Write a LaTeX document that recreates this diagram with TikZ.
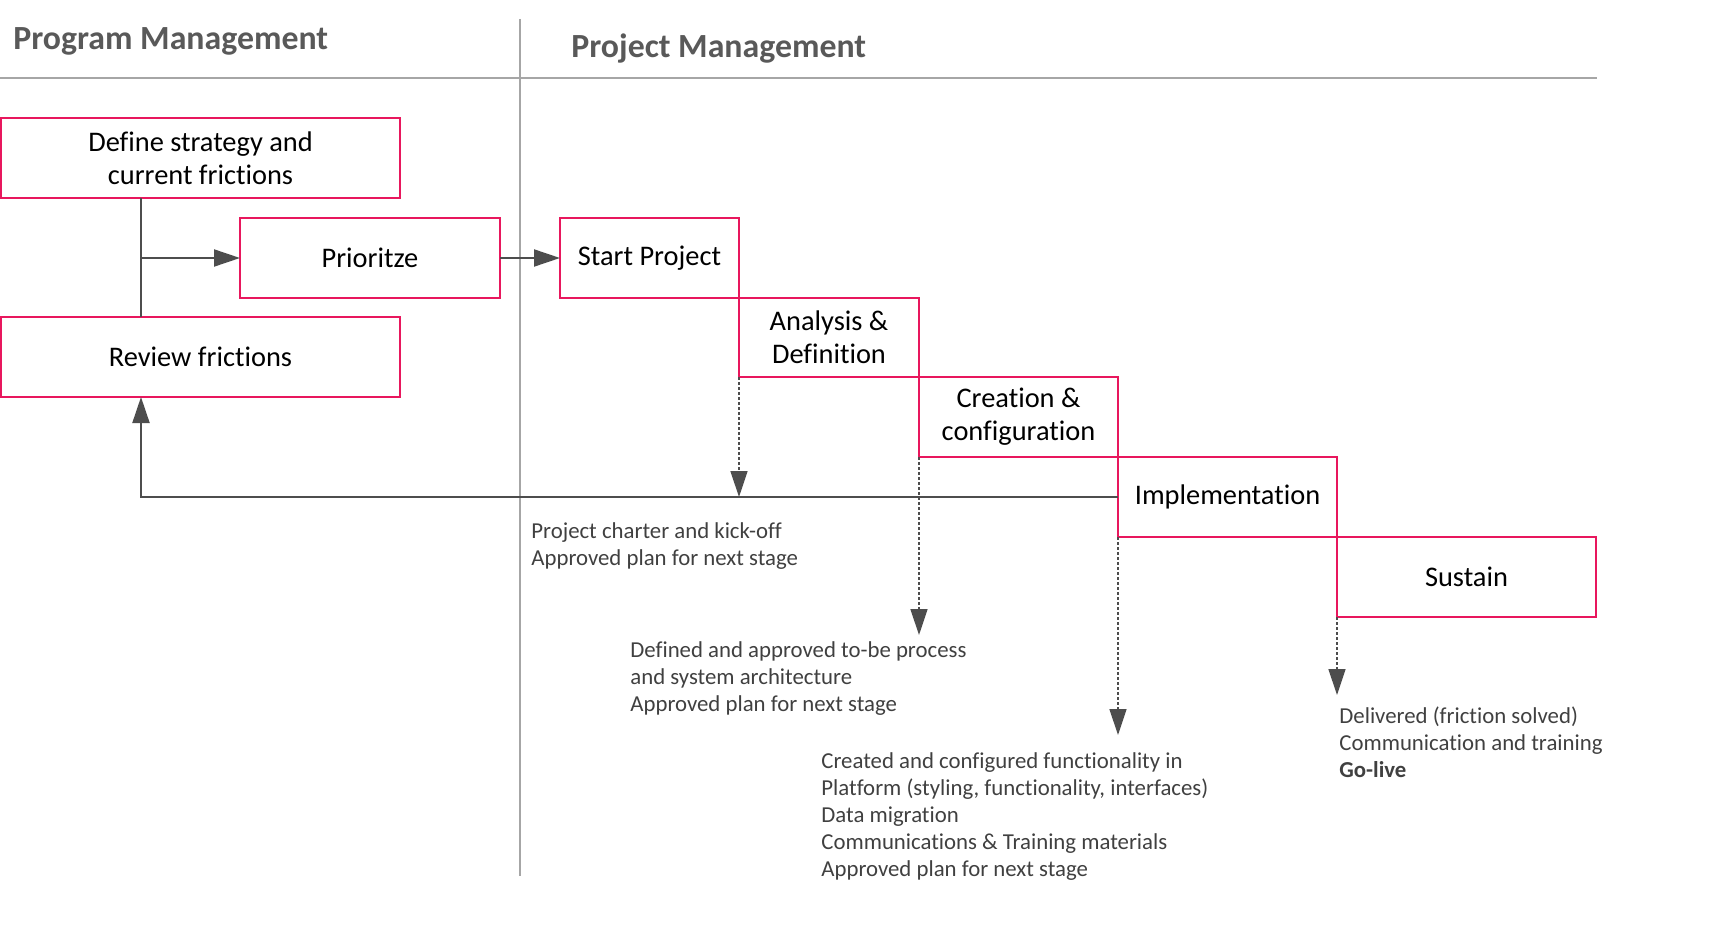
\documentclass[tikz,border=0pt]{standalone}
\usepackage{fontspec}
\setmainfont{Carlito}[Ligatures=NoCommon]
\usetikzlibrary{arrows.meta}

\definecolor{boxred}{RGB}{232,23,93}
\definecolor{linegrey}{RGB}{77,77,77}
\definecolor{rulegrey}{RGB}{166,166,166}
\definecolor{textgrey}{RGB}{64,64,64}
\definecolor{titlegrey}{RGB}{89,89,89}

\tikzset{
  box/.style={draw=boxred, line width=1pt, outer sep=0pt, inner sep=2pt,
    minimum height=40pt, align=center, font=\fontsize{14.2}{16.5}\selectfont},
  flow/.style={draw=linegrey, line width=1pt},
  flowarrow/.style={flow, -{Triangle[length=13pt,width=8.5pt]}},
  outarrow/.style={draw=linegrey, line width=0.75pt, dash pattern=on 1.4pt off 1.1pt,
    -{Triangle[length=13pt,width=8.5pt]}},
  % base of a multi-line node is its last line
  outtext/.style={anchor=base west, inner sep=0pt, align=left, text=textgrey,
    font=\fontsize{11.4}{13.5}\selectfont},
  title/.style={anchor=base west, inner sep=0pt, text=titlegrey,
    font=\bfseries\fontsize{16.9}{19}\selectfont},
}

\begin{document}
\begin{tikzpicture}[x=0.5pt,y=-0.5pt]
  \useasboundingbox (0,0) rectangle (1714,931);

  % headers
  \draw[rulegrey, line width=1pt] (0,78) -- (1597,78);
  \draw[rulegrey, line width=1pt] (520,19) -- (520,876);
  \node[title] (program) at (13,50) {Program Management};
  \node[title] (project) at (571,58) {Project Management};

  % program management
  \node[box, minimum width=199.5pt] (define) at (200.5,158) {Define strategy and\\current frictions};
  \node[box, minimum width=130pt] (prioritize) at (370,258) {Prioritze};
  \node[box, minimum width=199.5pt] (review) at (200.5,357) {Review frictions};

  % project stages
  \node[box, minimum width=89.5pt] (start) at (649.5,258) {Start Project};
  \node[box, minimum width=90pt, minimum height=39.5pt, anchor=north west] (analysis) at (start.south east) {Analysis \&\\Definition};
  \node[box, minimum width=99.5pt, anchor=north west] (creation) at (analysis.south east) {Creation \&\\configuration};
  \node[box, minimum width=109.5pt, anchor=north west] (implementation) at (creation.south east) {Implementation};
  \node[box, minimum width=129.5pt, anchor=north west] (sustain) at (implementation.south east) {Sustain};

  % connectors
  \coordinate (split) at (141,258);
  \draw[flow] (define.south -| split) -- (review.north -| split);
  \draw[flowarrow] (split) -- (prioritize.west);
  \draw[flowarrow] (prioritize.east) -- (start.west);
  \draw[flowarrow] (implementation.west) -| (review.south -| split);

  % deliverables
  \coordinate (tipB) at (919,635);
  \coordinate (tipC) at (1118,735);
  \coordinate (tipD) at (1337,695);
  \draw[outarrow] (analysis.south west) -- (analysis.south west |- implementation.west);
  \draw[outarrow] (creation.south west) -- (tipB);
  \draw[outarrow] (implementation.south west) -- (tipC);
  \draw[outarrow] (sustain.south west) -- (tipD);

  \node[outtext] (charter) at (531,565) {Project charter and kick-off\\Approved plan for next stage};
  \node[outtext] (design) at (630,711) {Defined and approved to-be process\\and system architecture\\Approved plan for next stage};
  \node[outtext] (build) at (821,876) {Created and configured functionality in\\Platform (styling, functionality, interfaces)\\Data migration\\Communications \& Training materials\\Approved plan for next stage};
  \node[outtext] (golive) at (1339,777) {Delivered (friction solved)\\Communication and training\\\textbf{Go-live}};
\end{tikzpicture}
\end{document}
